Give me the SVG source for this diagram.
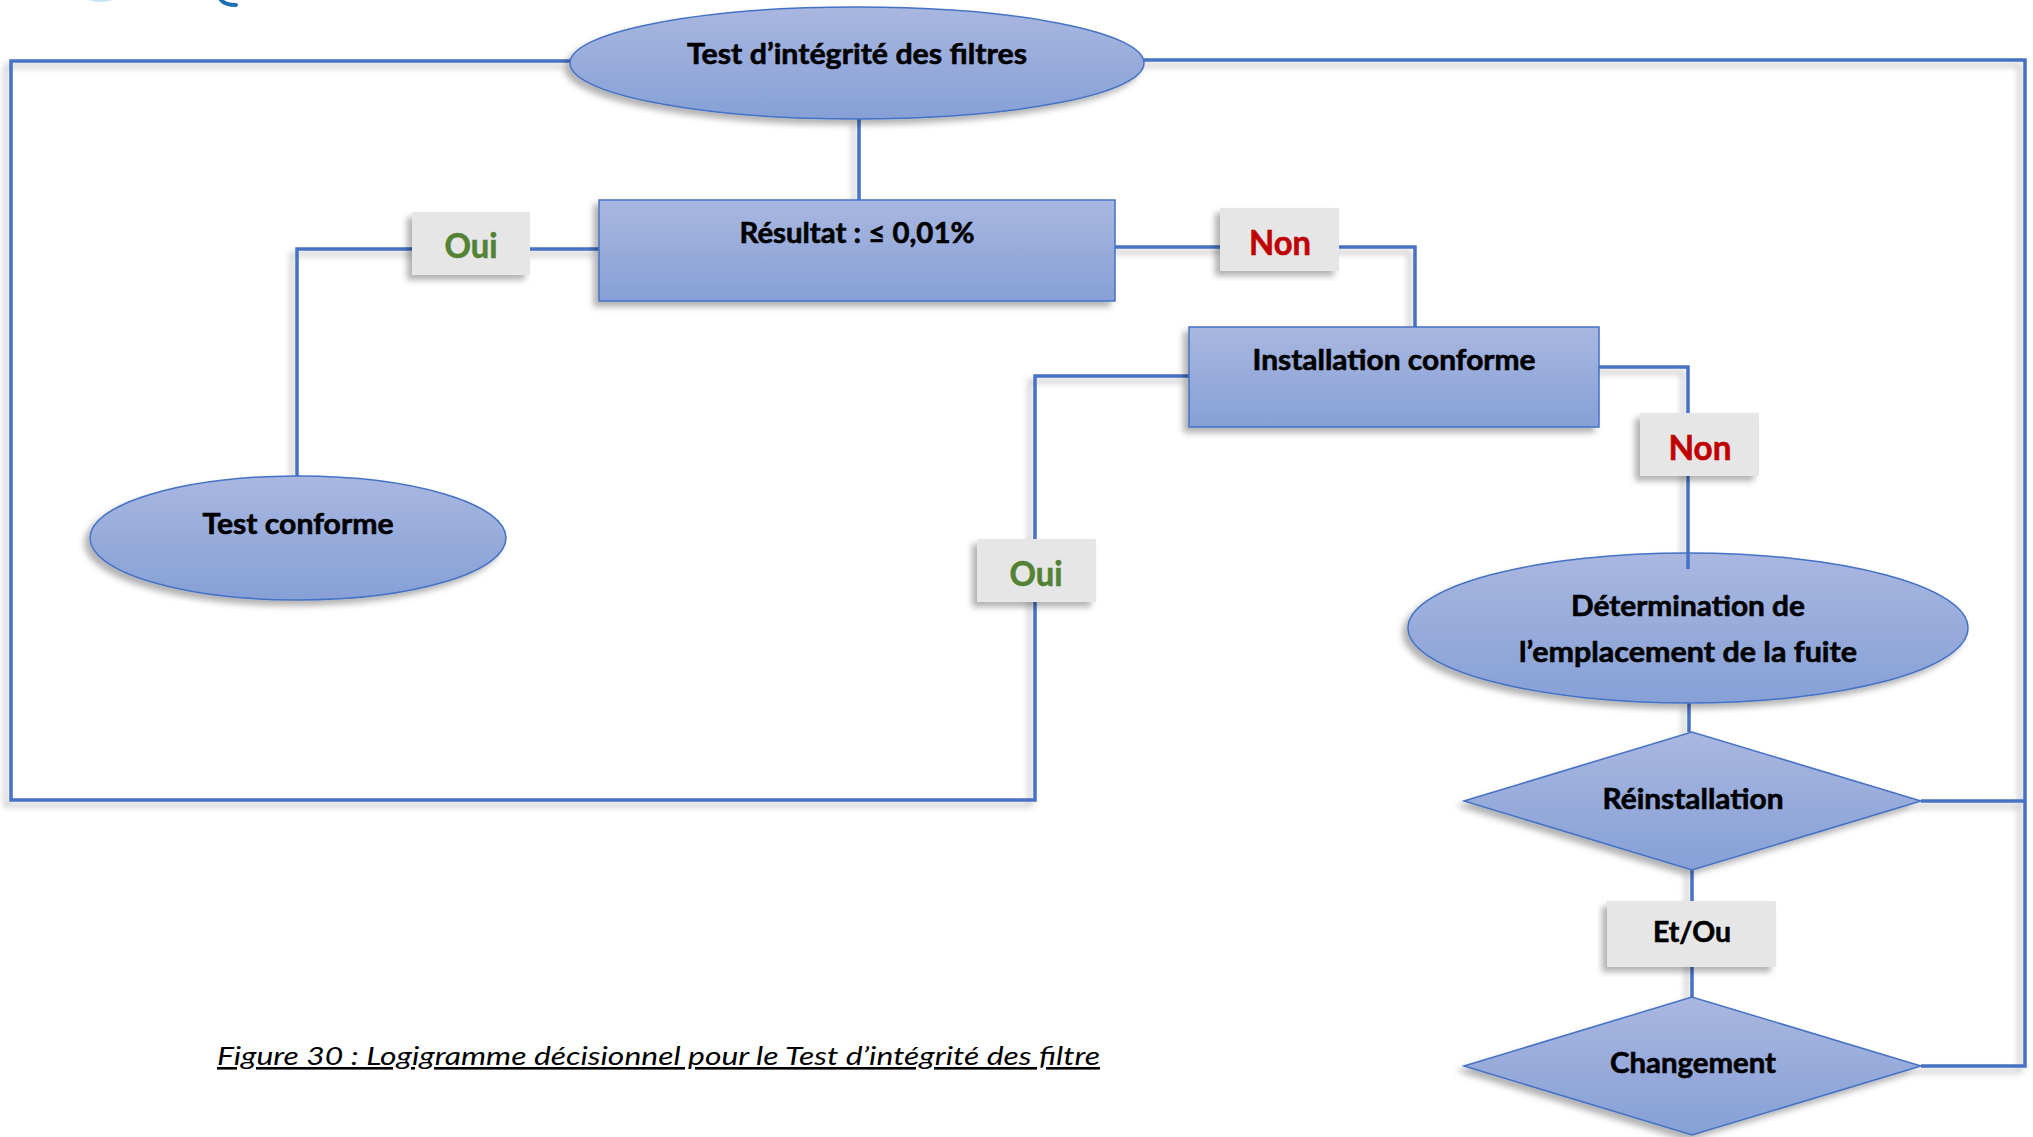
<svg xmlns="http://www.w3.org/2000/svg" width="2033" height="1137" viewBox="0 0 2033 1137">
  <defs>
    <linearGradient id="blueGrad" x1="0" y1="0" x2="0" y2="1">
      <stop offset="0" stop-color="#A9B7E0"/>
      <stop offset="1" stop-color="#86A0D6"/>
    </linearGradient>
    <filter id="shadow" x="-10%" y="-10%" width="120%" height="130%">
      <feDropShadow dx="-5" dy="5" stdDeviation="3" flood-color="#000" flood-opacity="0.3"/>
    </filter>
    <filter id="lineShadow" x="-5%" y="-5%" width="110%" height="110%">
      <feDropShadow dx="-5" dy="5" stdDeviation="3" flood-color="#000" flood-opacity="0.25"/>
    </filter>
  </defs>
  <style>
    .shape { fill: url(#blueGrad); stroke: #4472C4; stroke-width: 1.5; filter: url(#shadow); }
    .conn { fill: none; stroke: #4472C4; stroke-width: 3.5; stroke-linejoin: miter; }
    .lbl { fill: #E6E6E6; stroke: none; filter: url(#shadow); }
    .t { font-family: Lato, "Open Sans", "Liberation Sans", sans-serif; font-weight: bold; font-size: 29px; fill: #000; stroke: #000; stroke-width: 0.6; text-anchor: middle; }
    .big { font-size: 35px; }
    .oui { fill: #548235; stroke: #548235; }
    .non { fill: #C00000; stroke: #C00000; }
    .cap { font-family: Lato, "Open Sans", "Liberation Sans", sans-serif; font-style: italic; font-size: 26px; fill: #000; text-decoration: underline; }
  </style>
  <rect width="2033" height="1137" fill="#FFFFFF"/>

  <!-- cut-off logo fragment at top edge -->
  <path d="M88 0 Q100 4 113 0 Z" fill="#BFE6F2"/>
  <path d="M221 0 Q225 5 236 5" fill="none" stroke="#1F6FB5" stroke-width="4" stroke-linecap="round"/>

  <g id="connectors" filter="url(#lineShadow)">
    <polyline class="conn" points="570,61 11,61 11,800 1035,800 1035,376 1189,376"/>
    <polyline class="conn" points="1144,60 2025,60 2025,1066 1921,1066"/>
    <line class="conn" x1="2025" y1="801" x2="1921" y2="801"/>
    <line class="conn" x1="859" y1="119" x2="859" y2="200"/>
    <polyline class="conn" points="599,249 297,249 297,476"/>
    <polyline class="conn" points="1115,247 1415,247 1415,327"/>
    <polyline class="conn" points="1599,367 1688,367 1688,560"/>
    <line class="conn" x1="1689" y1="703" x2="1689" y2="732"/>
    <line class="conn" x1="1692" y1="870" x2="1692" y2="997"/>
  </g>

  <g id="node-test-integrite">
    <ellipse class="shape" cx="857" cy="63" rx="287" ry="56"/>
    <text class="t" x="857" y="64" textLength="340" lengthAdjust="spacingAndGlyphs">Test d’intégrité des filtres</text>
  </g>

  <g id="node-resultat">
    <rect class="shape" x="599" y="200" width="516" height="101"/>
    <text class="t" x="857" y="243" textLength="235" lengthAdjust="spacingAndGlyphs">Résultat : ≤ 0,01%</text>
  </g>

  <g id="node-test-conforme">
    <ellipse class="shape" cx="298" cy="538" rx="208" ry="62"/>
    <text class="t" x="298" y="534" textLength="191" lengthAdjust="spacingAndGlyphs">Test conforme</text>
  </g>

  <g id="node-installation">
    <rect class="shape" x="1189" y="327" width="410" height="100"/>
    <text class="t" x="1394" y="370" textLength="283" lengthAdjust="spacingAndGlyphs">Installation conforme</text>
  </g>

  <g id="node-determination">
    <ellipse class="shape" cx="1688" cy="628" rx="280" ry="75"/>
    <text class="t" x="1688" y="616" textLength="234" lengthAdjust="spacingAndGlyphs">Détermination de</text>
    <text class="t" x="1688" y="662" textLength="338" lengthAdjust="spacingAndGlyphs">l’emplacement de la fuite</text>
  </g>
  <line class="conn" x1="1688" y1="553" x2="1688" y2="569"/>

  <g id="node-reinstallation">
    <polygon class="shape" points="1464,801 1692,732 1921,801 1692,870"/>
    <text class="t" x="1693" y="809" textLength="181" lengthAdjust="spacingAndGlyphs">Réinstallation</text>
  </g>

  <g id="node-changement">
    <polygon class="shape" points="1464,1066 1692,997 1921,1066 1692,1135"/>
    <text class="t" x="1693" y="1073" textLength="166" lengthAdjust="spacingAndGlyphs">Changement</text>
  </g>

  <g id="label-oui-1">
    <rect class="lbl" x="412" y="212" width="118" height="63"/>
    <text class="t big oui" x="471" y="258" textLength="53" lengthAdjust="spacingAndGlyphs">Oui</text>
  </g>
  <g id="label-non-1">
    <rect class="lbl" x="1220" y="208" width="119" height="63"/>
    <text class="t big non" x="1280" y="255" textLength="62" lengthAdjust="spacingAndGlyphs">Non</text>
  </g>
  <g id="label-non-2">
    <rect class="lbl" x="1640" y="413" width="119" height="63"/>
    <text class="t big non" x="1700" y="460" textLength="63" lengthAdjust="spacingAndGlyphs">Non</text>
  </g>
  <g id="label-oui-2">
    <rect class="lbl" x="977" y="539" width="119" height="63"/>
    <text class="t big oui" x="1036" y="586" textLength="53" lengthAdjust="spacingAndGlyphs">Oui</text>
  </g>
  <g id="label-etou">
    <rect class="lbl" x="1607" y="901" width="169" height="66"/>
    <text class="t" x="1692" y="942" textLength="78" lengthAdjust="spacingAndGlyphs">Et/Ou</text>
  </g>

  <text class="cap" x="217" y="1065" textLength="883" lengthAdjust="spacingAndGlyphs">Figure 30 : Logigramme décisionnel pour le Test d’intégrité des filtre</text>
</svg>
